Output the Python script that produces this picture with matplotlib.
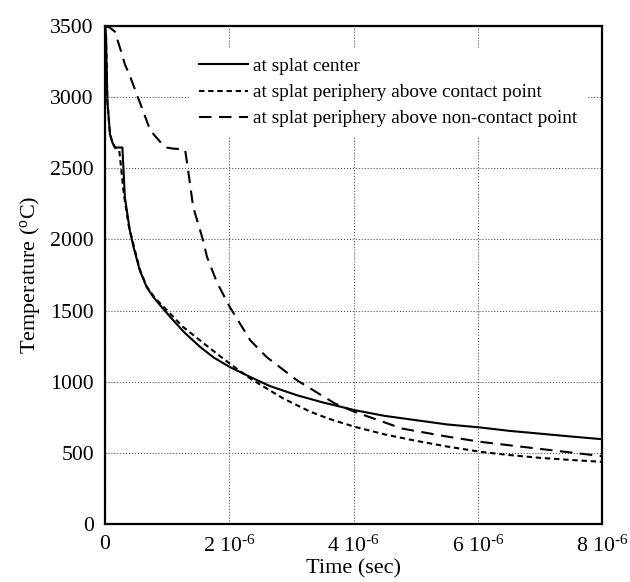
import matplotlib
matplotlib.use("Agg")
import matplotlib.pyplot as plt
import numpy as np

plt.rcParams['font.family'] = ['Liberation Serif', 'DejaVu Serif']
plt.rcParams['mathtext.fontset'] = 'custom'
plt.rcParams['mathtext.rm'] = 'Liberation Serif'
plt.rcParams['mathtext.it'] = 'Liberation Serif:italic'
plt.rcParams['mathtext.default'] = 'regular'

# time in microseconds, temperature in deg C
t_center = [0, 0.016, 0.038, 0.08, 0.12, 0.16, 0.28, 0.32, 0.40, 0.46, 0.56, 0.67, 0.78,
            0.94, 1.10, 1.28, 1.53, 1.75, 2.01, 2.34, 2.65, 3.09, 3.5, 4.02, 4.5, 5.0, 5.5,
            6.05, 6.5, 7.0, 7.5, 8.0]
T_center = [3500, 3437, 2974, 2740, 2680, 2646, 2646, 2296, 2062, 1945, 1782, 1665, 1594,
            1510, 1431, 1345, 1245, 1170, 1103, 1033, 970, 905, 855, 800, 760, 730, 700,
            678, 655, 635, 615, 596]

t_contact = [0, 0.016, 0.038, 0.08, 0.12, 0.16, 0.23, 0.26, 0.30, 0.38, 0.46, 0.56, 0.67,
             0.80, 1.05, 1.26, 1.53, 1.80, 2.01, 2.34, 2.87, 3.3, 3.6, 4.02, 4.5, 5.0,
             5.5, 6.05, 6.5, 7.0, 7.5, 8.0]
T_contact = [3500, 3437, 2974, 2740, 2680, 2646, 2623, 2500, 2330, 2100, 1960, 1790, 1670,
             1590, 1478, 1384, 1290, 1197, 1127, 1022, 882, 790, 740, 683, 630, 585,
             545, 507, 485, 465, 450, 437]

t_noncontact = [0, 0.08, 0.16, 0.24, 0.32, 0.4, 0.57, 0.7, 0.78, 0.9, 0.99, 1.1, 1.23, 1.29,
                1.34, 1.42, 1.50, 1.58, 1.64, 1.80, 2.01, 2.34, 2.60, 3.09, 3.7, 4.02, 4.78,
                5.5, 6.05, 6.94, 8.0]
T_noncontact = [3500, 3488, 3460, 3348, 3231, 3150, 2953, 2800, 2740, 2680, 2646, 2638, 2635,
                2630, 2480, 2226, 2110, 1992, 1880, 1700, 1524, 1290, 1174, 1010, 847, 788, 671,
                615, 577, 531, 477]

labels = ['at splat center',
          'at splat periphery above contact point',
          'at splat periphery above non-contact point']

x_ticks = [0, 2, 4, 6, 8]
x_ticklabels = ['0', r'2 10$^{\text{-6}}$', r'4 10$^{\text{-6}}$', r'6 10$^{\text{-6}}$',
                r'8 10$^{\text{-6}}$']
y_ticks = [0, 500, 1000, 1500, 2000, 2500, 3000, 3500]

fig = plt.figure(figsize=(6.3, 5.82), dpi=100)
ax = fig.add_axes([105/630, 58/582, 497/630, 498/582])

scale = 1e-6
lw = 1.5
ax.plot(np.array(t_center)*scale, T_center, color='black', lw=lw, label=labels[0])
ax.plot(np.array(t_contact)*scale, T_contact, color='black', lw=lw,
        linestyle=(0, (2.6, 1.8)), label=labels[1])
ax.plot(np.array(t_noncontact)*scale, T_noncontact, color='black', lw=lw,
        linestyle=(0, (6.0, 3.6)), label=labels[2])

ax.set_xlim(0, 8e-6)
ax.set_ylim(0, 3500)
ax.set_xticks([v*scale for v in x_ticks])
ax.set_xticklabels(x_ticklabels)
ax.set_yticks(y_ticks)
ax.tick_params(length=0, labelsize=15.7, pad=8)
ax.grid(True, color='#555555', linestyle=':', linewidth=0.8)
for s in ax.spines.values():
    s.set_linewidth(1.6)
    s.set_zorder(10)

ax.set_xlabel('Time (sec)', fontsize=16, labelpad=2)
ax.set_ylabel(r'Temperature ($^{o}$C)', fontsize=16, labelpad=6)

leg = ax.legend(loc='upper left', bbox_to_anchor=(0.15, 0.975), frameon=True,
                fontsize=13.85, handlelength=2.55, handletextpad=0.26,
                labelspacing=0.45, borderpad=0.5, fancybox=False)
leg.get_frame().set_edgecolor('none')
leg.get_frame().set_facecolor('white')
leg.get_frame().set_alpha(1)

fig.savefig('out.png', dpi=100)
